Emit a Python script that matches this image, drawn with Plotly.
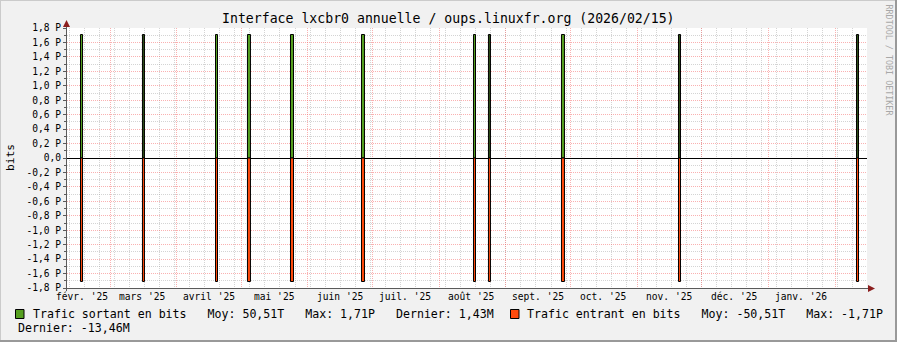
import plotly.graph_objects as go
import pandas as pd

# ---------------- data ----------------
spike_dates = [
    "2025-02-15 18:00", "2025-03-16 13:00", "2025-04-19 12:00", "2025-05-04 14:00",
    "2025-05-24 14:00", "2025-06-26 14:00", "2025-08-17 10:00", "2025-08-24 09:00",
    "2025-09-27 13:00", "2025-11-20 17:00", "2026-02-11 11:00",
]
sortant_bits = [1.71e15, 1.71e15, 1.71e15, 1.71e15, 1.71e15, 1.71e15,
                1.71e15, 1.71e15, 1.71e15, 1.71e15, 1.71e15]
entrant_bits = [-1.71e15, -1.71e15, -1.71e15, -1.71e15, -1.71e15, -1.71e15,
                -1.71e15, -1.71e15, -1.71e15, -1.71e15, -1.71e15]

y_tick_vals = [1.8e15, 1.6e15, 1.4e15, 1.2e15, 1.0e15, 0.8e15, 0.6e15, 0.4e15, 0.2e15, 0.0,
               -0.2e15, -0.4e15, -0.6e15, -0.8e15, -1.0e15, -1.2e15, -1.4e15, -1.6e15, -1.8e15]
y_tick_text = ["1,8 P", "1,6 P", "1,4 P", "1,2 P", "1,0 P", "0,8 P", "0,6 P", "0,4 P", "0,2 P", "0,0",
               "-0,2 P", "-0,4 P", "-0,6 P", "-0,8 P", "-1,0 P", "-1,2 P", "-1,4 P", "-1,6 P", "-1,8 P"]

month_starts = ["2025-02-01", "2025-03-01", "2025-04-01", "2025-05-01", "2025-06-01", "2025-07-01",
                "2025-08-01", "2025-09-01", "2025-10-01", "2025-11-01", "2025-12-01", "2026-01-01",
                "2026-02-01"]
month_labels = ["févr. '25", "mars '25", "avril '25", "mai '25", "juin '25", "juil. '25",
                "août '25", "sept. '25", "oct. '25", "nov. '25", "déc. '25", "janv. '26"]

series_names = ["Trafic sortant en bits", "Trafic entrant en bits"]
stat_moy = ["50,51T", "-50,51T"]
stat_max = ["1,71P", "-1,71P"]
stat_dernier = ["1,43M", "-13,46M"]

title_text = "Interface lxcbr0 annuelle / oups.linuxfr.org (2026/02/15)"
x_start, x_end = "2025-02-09 00:00", "2026-02-15 20:53"

# ---------------- style ----------------
W, H = 897, 342
L, R, T, B = 67, 867, 28, 288
PX_PER_DAY = (R - L) / ((pd.Timestamp(x_end) - pd.Timestamp(x_start)).total_seconds() / 86400)
MS_PER_PX = 86400000 / PX_PER_DAY
spike_px = [2, 2, 2, 3, 3, 3, 2, 2, 3, 2, 2]
GREEN = "#56A020"
GREEN_DARK = "#2E4E16"
RED = "#FF4A0C"
out_fill = [GREEN, GREEN_DARK, GREEN, GREEN, GREEN, GREEN, GREEN, GREEN_DARK, GREEN, GREEN_DARK, GREEN_DARK]
MONO = "DejaVu Sans Mono"
BG = "#F1F1F1"
MGRID = "rgba(245,100,100,0.5)"
GRID = "rgba(160,160,160,0.45)"
ARROW = "#8B1E1E"
AXIS = "#5a5a5a"


def px(xp):
    return (xp - L) / (R - L)


def py(yp):
    return (B - yp) / (B - T)


widths = [w * MS_PER_PX for w in spike_px]

fig = go.Figure()
fig.add_trace(go.Bar(x=spike_dates, y=sortant_bits, width=widths,
                     marker=dict(color=out_fill, line=dict(color="black", width=1)),
                     name=series_names[0], hoverinfo="skip"))
fig.add_trace(go.Bar(x=spike_dates, y=entrant_bits, width=widths,
                     marker=dict(color=RED, line=dict(color="black", width=1)),
                     name=series_names[1], hoverinfo="skip"))

week_grid = [d.strftime("%Y-%m-%d") for d in pd.date_range("2025-02-10", "2026-02-16", freq="7D")]
minor_y = [v * 1e14 for v in range(-17, 18, 2)]

fig.update_layout(
    width=W, height=H,
    margin=dict(l=L, r=W - R, t=T, b=H - B, pad=0),
    paper_bgcolor=BG, plot_bgcolor="white",
    showlegend=False, barmode="overlay",
    font=dict(family=MONO, color="black", size=10),
    xaxis=dict(
        type="date", range=[x_start, x_end], tickmode="array", tickvals=month_starts,
        showticklabels=False, ticks="", showgrid=True, gridcolor=MGRID, griddash="1px,1px",
        gridwidth=1, zeroline=False, showline=False,
        minor=dict(tickmode="array", tickvals=week_grid, showgrid=True, gridcolor=GRID,
                   griddash="1px,1px", gridwidth=1, ticks=""),
    ),
    yaxis=dict(
        range=[-1.8e15, 1.8e15], tickmode="array", tickvals=y_tick_vals, ticktext=y_tick_text,
        tickfont=dict(family=MONO, size=9.6, color="black"),
        ticks="outside", ticklen=3, tickcolor=AXIS, tickwidth=1,
        showgrid=True, gridcolor=MGRID, griddash="1px,1px", gridwidth=1,
        zeroline=True, zerolinecolor="black", zerolinewidth=1, showline=False,
        minor=dict(tickmode="array", tickvals=minor_y, showgrid=True, gridcolor=GRID,
                   griddash="1px,1px", gridwidth=1, ticks="outside", ticklen=2, tickcolor=AXIS),
    ),
)

ann = []
# title
ann.append(dict(text=title_text, xref="paper", yref="paper", x=px(448.5), y=py(19),
                xanchor="center", yanchor="middle", showarrow=False,
                font=dict(family=MONO, size=13.2, color="black")))
# month labels at mid-month
for d, lab in zip(month_starts, month_labels):
    mid = (pd.Timestamp(d) + pd.Timedelta(days=15)).strftime("%Y-%m-%d")
    ann.append(dict(text=lab, xref="x", yref="paper", x=mid, y=py(296.5),
                    xanchor="center", yanchor="middle", showarrow=False,
                    font=dict(family=MONO, size=9.6, color="black")))
# y axis title
ann.append(dict(text="bits", xref="paper", yref="paper", x=px(10), y=py(158), textangle=-90,
                xanchor="center", yanchor="middle", showarrow=False,
                font=dict(family=MONO, size=11.2, color="black")))
# watermark
ann.append(dict(text="RRDTOOL / TOBI OETIKER", xref="paper", yref="paper", x=px(888.5), y=py(60),
                textangle=90, xanchor="center", yanchor="middle", showarrow=False,
                font=dict(family=MONO, size=8.4, color="#A8A8A8")))


def nb(s):
    return s.replace(" ", "\u00a0")


sep = "   "
leg1 = f"{series_names[0]}{sep}Moy: {stat_moy[0]}{sep}Max: {stat_max[0]}{sep}Dernier: {stat_dernier[0]}"
leg2 = f"{series_names[1]}{sep}Moy: {stat_moy[1]}{sep}Max: {stat_max[1]}"
leg3 = f"Dernier: {stat_dernier[1]}"
for txt, x0, y0 in [(leg1, 30.5, 313.5), (leg2, 525, 313.5), (leg3, 16, 328)]:
    ann.append(dict(text=nb(txt), xref="paper", yref="paper", x=px(x0), y=py(y0),
                    xanchor="left", yanchor="middle", showarrow=False,
                    font=dict(family=MONO, size=11.6, color="black")))
fig.update_layout(annotations=ann)

shapes = []
# legend swatches
for col, x0 in [(GREEN, 15.5), (RED, 510.5)]:
    shapes.append(dict(type="rect", xref="paper", yref="paper", x0=px(x0), x1=px(x0 + 8.5),
                       y0=py(309.5), y1=py(318.5), fillcolor=col, line=dict(color="black", width=1)))
# axis lines
shapes.append(dict(type="line", xref="paper", yref="paper", x0=px(63), x1=px(872),
                   y0=py(288.5), y1=py(288.5), line=dict(color=AXIS, width=1)))
shapes.append(dict(type="line", xref="paper", yref="paper", x0=px(66.5), x1=px(66.5),
                   y0=py(291), y1=py(23), line=dict(color=AXIS, width=1)))
# arrows
shapes.append(dict(type="path", xref="paper", yref="paper",
                   path=f"M {px(868)} {py(285)} L {px(875)} {py(288.5)} L {px(868)} {py(292)} Z",
                   fillcolor=ARROW, line=dict(color=ARROW, width=0)))
shapes.append(dict(type="path", xref="paper", yref="paper",
                   path=f"M {px(63)} {py(27)} L {px(66.5)} {py(20)} L {px(70)} {py(27)} Z",
                   fillcolor=ARROW, line=dict(color=ARROW, width=0)))
# frame shading
shapes.append(dict(type="line", xref="paper", yref="paper", x0=px(0), x1=px(W), y0=py(0.5), y1=py(0.5),
                   line=dict(color="#CBCBCB", width=1)))
shapes.append(dict(type="line", xref="paper", yref="paper", x0=px(0.5), x1=px(0.5), y0=py(0), y1=py(H),
                   line=dict(color="#CBCBCB", width=1)))
shapes.append(dict(type="line", xref="paper", yref="paper", x0=px(0), x1=px(W), y0=py(H - 1), y1=py(H - 1),
                   line=dict(color="#999999", width=2)))
shapes.append(dict(type="line", xref="paper", yref="paper", x0=px(W - 1), x1=px(W - 1), y0=py(0), y1=py(H),
                   line=dict(color="#999999", width=2)))
fig.update_layout(shapes=shapes)

fig.write_html("out.html")
